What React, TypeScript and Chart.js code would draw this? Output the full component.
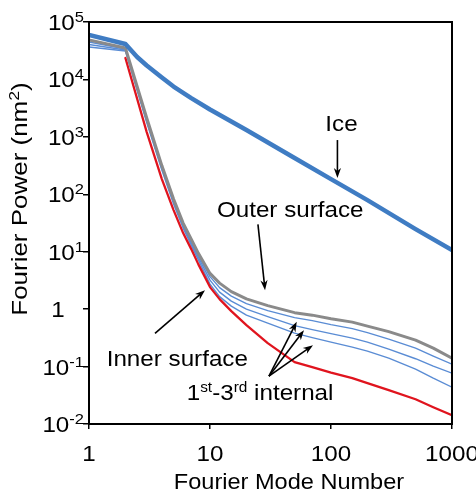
import React, { useEffect, useRef } from "react";
import { Chart, registerables } from "chart.js";

Chart.register(...registerables);

// ---- data ----
const modes = [1, 2, 3, 4, 5, 6, 7, 8, 10, 12, 15, 20, 30, 50, 70, 100, 150, 200, 300, 500, 700, 1000];
const outerSurface = [48600, 35200, 2125, 316, 82.5, 31.5, 16.6, 9.45, 4.19, 2.84, 2.02, 1.51, 1.15, 0.869, 0.786, 0.683, 0.594, 0.506, 0.406, 0.288, 0.209, 0.14];
const internal1 = [44800, 33800, 2001, 297.8, 77.7, 29.7, 15.3, 8.73, 3.68, 2.37, 1.685, 1.247, 0.942, 0.711, 0.63, 0.537, 0.457, 0.39, 0.3, 0.209, 0.152, 0.11];
const internal2 = [40600, 32500, 1885, 280.4, 73.1, 27.4, 14.1, 8.05, 3.2, 1.98, 1.379, 1.0, 0.74, 0.516, 0.439, 0.374, 0.313, 0.266, 0.201, 0.137, 0.1016, 0.0767];
const internal3 = [36700, 31200, 1775, 264, 67.5, 25.8, 13.0, 7.29, 2.73, 1.65, 1.128, 0.786, 0.57, 0.382, 0.319, 0.266, 0.218, 0.1855, 0.14, 0.0901, 0.0628, 0.0438];
const innerSurface = [null, 23600, 1212, 184, 53.0, 21.1, 11.1, 6.08, 2.42, 1.494, 0.923, 0.526, 0.256, 0.1193, 0.0976, 0.0783, 0.0628, 0.0514, 0.0388, 0.027, 0.0196, 0.0142];
const iceModes = [1, 2, 2.5, 3, 4, 5, 7, 10, 20, 50, 100, 200, 500, 1000];
const ice = [59400, 41400, 24560, 17470, 10790, 7520, 4740, 2990, 1314, 428, 184, 79, 24.8, 10.7];

const xTickValues = [1, 10, 100, 1000];
const xTickLabels = ["1", "10", "100", "1000"];
const yTickValues = [0.01, 0.1, 1, 10, 100, 1000, 10000, 100000];
const yTickExponents = ["-2", "-1", "0", "1", "2", "3", "4", "5"];

const xTitle = "Fourier Mode Number";
const yTitle = "Fourier Power (nm";
const yTitleSup = "2";

// annotation anchors, in data units
const iceLabel = { text: "Ice", x: 122, y: 1280 };
const iceArrow = { from: [113, 880], to: [113, 192] };
const outerLabel = { text: "Outer surface", x: 11.4, y: 40 };
const outerArrow = { from: [24.9, 30], to: [28.5, 2.14] };
const innerLabel = { text: "Inner surface", x: 1.4, y: 0.1016 };
const innerArrow = { from: [3.51, 0.377], to: [9.09, 2.14] };
const internalLabel = { x: 6.42, y: 0.0267 };
const internalArrowFrom = [30.7, 0.068];
const internalArrowTips = [
  [52.1, 0.601],
  [59.8, 0.4306],
  [71.0, 0.236],
];

const FONT = '"Liberation Sans", Arial, Helvetica, sans-serif';

type Seg = { t: string; sup?: boolean };

function drawRich(
  ctx: CanvasRenderingContext2D,
  segs: Seg[],
  x: number,
  y: number,
  size: number,
  supSize: number,
  supRise: number,
  align: "left" | "center" | "right",
  sx: number
) {
  const widths = segs.map((s) => {
    ctx.font = `${s.sup ? supSize : size}px ${FONT}`;
    return ctx.measureText(s.t).width * sx;
  });
  const total = widths.reduce((a, b) => a + b, 0);
  let cx = align === "left" ? x : align === "center" ? x - total / 2 : x - total;
  segs.forEach((s, i) => {
    ctx.font = `${s.sup ? supSize : size}px ${FONT}`;
    ctx.save();
    ctx.translate(cx, s.sup ? y - supRise : y);
    ctx.scale(sx, 1);
    ctx.textAlign = "left";
    ctx.textBaseline = "alphabetic";
    ctx.fillText(s.t, 0, 0);
    ctx.restore();
    cx += widths[i];
  });
  return total;
}

function drawArrow(ctx: CanvasRenderingContext2D, x1: number, y1: number, x2: number, y2: number) {
  const head = 10;
  const half = 3.6;
  const ang = Math.atan2(y2 - y1, x2 - x1);
  const c = Math.cos(ang);
  const s = Math.sin(ang);
  const bx = x2 - head * c;
  const by = y2 - head * s;
  ctx.beginPath();
  ctx.moveTo(x1, y1);
  ctx.lineTo(x2 - head * 0.6 * c, y2 - head * 0.6 * s);
  ctx.lineWidth = 1.6;
  ctx.strokeStyle = "#000";
  ctx.stroke();
  ctx.beginPath();
  ctx.moveTo(x2, y2);
  ctx.lineTo(bx - half * s, by + half * c);
  ctx.lineTo(x2 - head * 0.7 * c, y2 - head * 0.7 * s);
  ctx.lineTo(bx + half * s, by - half * c);
  ctx.closePath();
  ctx.fillStyle = "#000";
  ctx.fill();
}

const overlayPlugin = {
  id: "overlay",
  afterDraw(chart: any) {
    const { ctx, chartArea: a, scales } = chart;
    const X = (v: number) => scales.x.getPixelForValue(v);
    const Y = (v: number) => scales.y.getPixelForValue(v);
    ctx.save();
    // frame
    ctx.strokeStyle = "#000";
    ctx.lineWidth = 2;
    ctx.strokeRect(a.left, a.top, a.right - a.left, a.bottom - a.top);
    ctx.fillStyle = "#000";

    // y tick labels
    yTickValues.forEach((v, i) => {
      const e = yTickExponents[i];
      const py = Y(v);
      if (e === "0") {
        drawRich(ctx, [{ t: "1" }], 58, py + 8, 22, 15, 8, "center", 1.1);
      } else {
        drawRich(ctx, [{ t: "10" }, { t: e, sup: true }], 84, py + 8, 22, 15, 8, "right", 1.1);
      }
    });
    // x tick labels
    xTickValues.forEach((v, i) => {
      drawRich(ctx, [{ t: xTickLabels[i] }], X(v), 461, 22, 15, 8, "center", 1.1);
    });
    // x title
    drawRich(ctx, [{ t: xTitle }], 289, 489, 22, 15, 8, "center", 1.07);
    // y title
    ctx.save();
    ctx.translate(27, 199);
    ctx.rotate(-Math.PI / 2);
    drawRich(ctx, [{ t: yTitle }, { t: yTitleSup, sup: true }, { t: ")" }], 0, 0, 22, 15, 8, "center", 1.18);
    ctx.restore();

    // annotations
    drawRich(ctx, [{ t: iceLabel.text }], X(iceLabel.x), Y(iceLabel.y), 22, 15, 8, "center", 1.1);
    drawArrow(ctx, X(iceArrow.from[0]), Y(iceArrow.from[1]), X(iceArrow.to[0]), Y(iceArrow.to[1]));
    drawRich(ctx, [{ t: outerLabel.text }], X(outerLabel.x), Y(outerLabel.y), 22, 15, 8, "left", 1.1);
    drawArrow(ctx, X(outerArrow.from[0]), Y(outerArrow.from[1]), X(outerArrow.to[0]), Y(outerArrow.to[1]));
    drawRich(ctx, [{ t: innerLabel.text }], X(innerLabel.x), Y(innerLabel.y), 22, 15, 8, "left", 1.1);
    drawArrow(ctx, X(innerArrow.from[0]), Y(innerArrow.from[1]), X(innerArrow.to[0]), Y(innerArrow.to[1]));
    drawRich(
      ctx,
      [{ t: "1" }, { t: "st", sup: true }, { t: "-3" }, { t: "rd", sup: true }, { t: " internal" }],
      X(internalLabel.x),
      Y(internalLabel.y),
      22,
      14,
      8,
      "left",
      1.1
    );
    internalArrowTips.forEach((tip) => {
      drawArrow(ctx, X(internalArrowFrom[0]), Y(internalArrowFrom[1]), X(tip[0]), Y(tip[1]));
    });
    ctx.restore();
  },
};

function toPoints(xs: number[], ys: (number | null)[]) {
  return xs.map((x, i) => ({ x, y: ys[i] }));
}

export default function App() {
  const ref = useRef<HTMLCanvasElement | null>(null);
  useEffect(() => {
    document.body.style.margin = "0";
    document.body.style.overflow = "hidden";
    const canvas = ref.current;
    if (!canvas) return;
    const chart = new Chart(canvas, {
      type: "line",
      data: {
        datasets: [
          { label: "Ice", data: toPoints(iceModes, ice) as any, borderColor: "#3f7cc3", borderWidth: 4.5, order: 0 },
          { label: "Outer surface", data: toPoints(modes, outerSurface) as any, borderColor: "#8a8a8a", borderWidth: 3, order: 1 },
          { label: "Inner surface", data: toPoints(modes, innerSurface) as any, borderColor: "#e0141e", borderWidth: 2.3, order: 2 },
          { label: "1st internal", data: toPoints(modes, internal1) as any, borderColor: "#5a8cd4", borderWidth: 1.4, order: 3 },
          { label: "2nd internal", data: toPoints(modes, internal2) as any, borderColor: "#5a8cd4", borderWidth: 1.4, order: 4 },
          { label: "3rd internal", data: toPoints(modes, internal3) as any, borderColor: "#5a8cd4", borderWidth: 1.4, order: 5 },
        ],
      },
      options: {
        animation: false,
        responsive: false,
        maintainAspectRatio: false,
        events: [],
        layout: { padding: { left: 0, top: 22, right: 24, bottom: 0 } },
        elements: { point: { radius: 0 }, line: { tension: 0, borderCapStyle: "round", borderJoinStyle: "round" } },
        plugins: { legend: { display: false }, tooltip: { enabled: false } },
        scales: {
          x: {
            type: "logarithmic",
            min: 1,
            max: 1000,
            afterBuildTicks: (s: any) => {
              s.ticks = xTickValues.map((v) => ({ value: v }));
            },
            afterFit: (s: any) => {
              s.height = 69;
            },
            ticks: { display: false },
            grid: { drawOnChartArea: false, drawTicks: true, tickLength: 5, color: "#000", lineWidth: 1.5 },
            border: { display: false },
          },
          y: {
            type: "logarithmic",
            min: 0.01,
            max: 100000,
            afterBuildTicks: (s: any) => {
              s.ticks = yTickValues.map((v) => ({ value: v }));
            },
            afterFit: (s: any) => {
              s.width = 89;
            },
            ticks: { display: false },
            grid: { drawOnChartArea: false, drawTicks: true, tickLength: 6, color: "#000", lineWidth: 1.5 },
            border: { display: false },
          },
        },
      } as any,
      plugins: [overlayPlugin],
    });
    return () => chart.destroy();
  }, []);
  return (
    <div style={{ width: 476, height: 493, background: "#fff" }}>
      <canvas ref={ref} width={476} height={493} style={{ display: "block", width: 476, height: 493 }} />
    </div>
  );
}
